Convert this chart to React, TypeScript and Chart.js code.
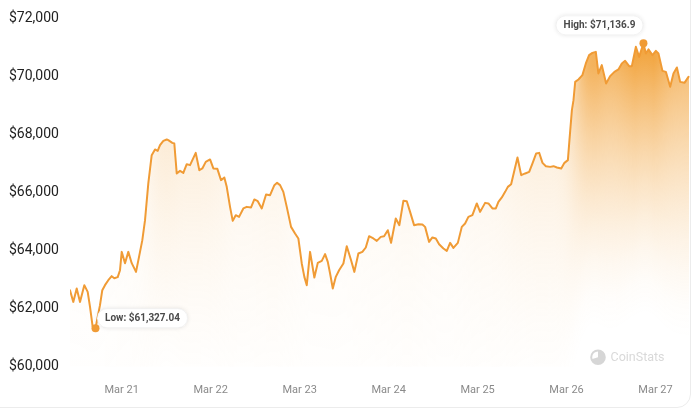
import React, { useEffect, useRef } from 'react';
import { Chart, registerables } from 'chart.js';

Chart.register(...registerables);

// hours since Mar 20 00:00
const hours = [
  10.05, 10.94, 11.86, 12.75, 13.91, 14.82, 15.45, 16.17, 16.93, 18.14,
  18.76, 19.49, 20.38, 21.3, 22.0, 22.92, 23.54, 24.0, 24.89, 25.78,
  26.7, 27.86, 28.67, 29.56, 30.29, 31.18, 32.09, 32.98, 33.71, 34.33,
  35.23, 36.14, 36.57, 37.65, 38.19, 38.84, 39.73, 40.62, 41.54, 42.43,
  43.97, 44.94, 45.75, 46.67, 47.83, 48.72, 49.8, 50.79, 51.68, 52.33,
  53.22, 53.95, 54.76, 55.65, 56.81, 57.73, 58.89, 59.78, 60.7, 61.78,
  62.94, 64.02, 65.18, 65.91, 66.72, 67.6, 68.52, 69.68, 70.76, 71.65,
  72.57, 73.27, 73.92, 74.81, 75.97, 76.89, 77.97, 78.86, 79.59, 80.21,
  80.94, 81.75, 82.64, 83.8, 84.71, 85.87, 86.76, 87.84, 88.92, 89.84,
  90.73, 91.89, 92.81, 93.89, 94.78, 95.78, 96.66, 97.93, 98.9, 99.98,
  100.9, 101.79, 102.87, 104.03, 105.11, 105.84, 106.92, 107.81, 108.73, 109.62,
  110.78, 111.7, 112.59, 113.48, 114.67, 115.74, 116.63, 117.52, 118.6, 119.79,
  120.68, 122.03, 122.92, 124.0, 124.92, 125.62, 126.54, 127.43, 128.16, 129.05,
  129.94, 130.76, 131.76, 132.84, 133.92, 134.81, 135.81, 136.62, 137.51, 138.43,
  139.59, 140.48, 141.4, 142.56, 143.43, 144.36, 144.78, 145.44, 145.87, 146.33,
  147.2, 148.28, 149.2, 150.08, 150.97, 151.89, 152.59, 153.51, 154.67, 155.75,
  156.91, 157.99, 158.91, 159.8, 160.88, 161.61, 162.69, 163.58, 164.74, 165.39,
  166.09, 167.17, 168.09, 168.79, 169.87, 170.79, 171.95, 172.84, 173.76, 174.65,
  175.81, 176.89,
];

const prices = [
  62635, 62232, 62694, 62232, 62808, 62577, 62060, 61371, 61327.04, 62119,
  62635, 62808, 62980, 63118, 63049, 63084, 63324, 63955, 63566, 63955,
  63566, 63266, 63783, 64358, 65047, 66322, 67286, 67483, 67434, 67631,
  67779, 67827, 67803, 67710, 67689, 66656, 66745, 66676, 66976, 66942,
  67365, 66769, 66828, 67055, 67138, 66828, 66814, 66425, 66518, 66194,
  65505, 65023, 65219, 65161, 65450, 65505, 65484, 65760, 65701, 65450,
  65932, 65908, 66253, 66332, 66253, 66022, 65505, 64816, 64589, 64416,
  63555, 63094, 62808, 63955, 63073, 63576, 63645, 63876, 63610, 63211,
  62694, 63094, 63324, 63555, 64151, 63669, 63266, 63900, 63955, 64106,
  64496, 64416, 64334, 64472, 64496, 64702, 64265, 65105, 64875, 65712,
  65701, 65333, 64875, 64909, 64899, 64816, 64299, 64451, 64416, 64220,
  64072, 63989, 64265, 64093, 64265, 64816, 64933, 65161, 65219, 65622,
  65333, 65643, 65622, 65450, 65450, 65677, 65829, 66022, 66194, 66287,
  66769, 67207, 66597, 66656, 66711, 67000, 67345, 67365, 67021, 66907,
  66883, 66907, 66862, 66828, 67021, 67114, 67803, 68836, 69181, 69811,
  69894, 70042, 70445, 70731, 70810, 70845, 70101, 70387, 69756, 70008,
  70156, 70239, 70445, 70535, 70352, 70352, 71017, 70673, 71136.9, 70790,
  70928, 70731, 70879, 70790, 70190, 70156, 69639, 70101, 70307, 69811,
  69777, 69984,
];

const dayTicks = [24, 48, 72, 96, 120, 144, 168];
const dayLabels = ['Mar 21', 'Mar 22', 'Mar 23', 'Mar 24', 'Mar 25', 'Mar 26', 'Mar 27'];
const yTicks = [60000, 62000, 64000, 66000, 68000, 70000, 72000];

const LINE = '#f09b35';
const FILL_RGB = '241,159,51';

const fmtMoney = (v: number) =>
  '$' + v.toLocaleString('en-US', { maximumFractionDigits: 2 });

const minIdx = prices.indexOf(Math.min(...prices));
const maxIdx = prices.indexOf(Math.max(...prices));

const glowFill = {
  id: 'glowFill',
  beforeDatasetsDraw(chart: any) {
    const meta = chart.getDatasetMeta(0);
    const pts = meta.data;
    if (!pts || pts.length < 2) return;
    const { ctx, chartArea } = chart;
    const bottom = chartArea.bottom;
    const x0 = Math.floor(pts[0].x);
    const x1 = Math.ceil(pts[pts.length - 1].x);
    // line y per pixel column
    const ys: number[] = [];
    let j = 0;
    for (let x = x0; x < x1; x++) {
      const cx = Math.min(Math.max(x + 0.5, pts[0].x), pts[pts.length - 1].x);
      while (j < pts.length - 2 && pts[j + 1].x < cx) j++;
      const a = pts[j];
      const b = pts[j + 1];
      const t = b.x === a.x ? 0 : (cx - a.x) / (b.x - a.x);
      ys.push(a.y + (b.y - a.y) * t);
    }
    // smoothed envelope
    const sigma = 9;
    const R = 27;
    const sm: number[] = ys.map((_, i) => {
      let s = 0;
      let w = 0;
      for (let k = -R; k <= R; k++) {
        const idx = Math.min(ys.length - 1, Math.max(0, i + k));
        const wk = Math.exp(-(k * k) / (2 * sigma * sigma));
        s += ys[idx] * wk;
        w += wk;
      }
      return s / w;
    });
    ctx.save();
    const depth = 260;
    for (let i = 0; i < ys.length; i++) {
      const x = x0 + i;
      const ly = ys[i];
      const sy = sm[i];
      const rel = sy - chartArea.top;
      const strength = Math.min(0.92, 0.9 * Math.exp(-(rel - 40) / 58));
      const g = ctx.createLinearGradient(0, sy, 0, sy + depth);
      const steps = 8;
      for (let k = 0; k <= steps; k++) {
        const f = k / steps;
        const al = strength * Math.pow(1 - f, 1.7);
        g.addColorStop(f, `rgba(${FILL_RGB},${al.toFixed(4)})`);
      }
      ctx.fillStyle = g;
      const h = bottom - ly;
      if (h > 0) ctx.fillRect(x, ly, 1, h);
    }
    ctx.restore();
  },
};

function pill(ctx: CanvasRenderingContext2D, x: number, y: number, w: number, h: number) {
  const r = h / 2;
  ctx.beginPath();
  ctx.moveTo(x + r, y);
  ctx.lineTo(x + w - r, y);
  ctx.arc(x + w - r, y + r, r, -Math.PI / 2, Math.PI / 2);
  ctx.lineTo(x + r, y + h);
  ctx.arc(x + r, y + r, r, Math.PI / 2, (Math.PI * 3) / 2);
  ctx.closePath();
}

const annotations = {
  id: 'annotations',
  afterDatasetsDraw(chart: any) {
    const { ctx, chartArea } = chart;
    const meta = chart.getDatasetMeta(0);
    const lo = meta.data[minIdx];
    const hi = meta.data[maxIdx];
    ctx.save();
    ctx.font = 'bold 10px Roboto';
    ctx.textBaseline = 'middle';
    ctx.textAlign = 'center';

    const drawLabel = (text: string, left: number, cy: number) => {
      const tw = ctx.measureText(text).width;
      const w = tw + 16;
      const h = 20;
      ctx.save();
      ctx.shadowColor = 'rgba(0,0,0,0.10)';
      ctx.shadowBlur = 4;
      ctx.fillStyle = '#ffffff';
      pill(ctx, left, cy - h / 2, w, h);
      ctx.fill();
      ctx.restore();
      ctx.strokeStyle = 'rgba(0,0,0,0.05)';
      ctx.lineWidth = 1;
      pill(ctx, left + 0.5, cy - h / 2 + 0.5, w - 1, h - 1);
      ctx.stroke();
      ctx.fillStyle = '#4a4a4a';
      ctx.fillText(text, left + w / 2, cy + 0.5);
      return w;
    };

    const hiText = 'High: ' + fmtMoney(prices[maxIdx]);
    const hiW = ctx.measureText(hiText).width + 16;
    drawLabel(hiText, hi.x - hiW, hi.y - 18);

    const loText = 'Low: ' + fmtMoney(prices[minIdx]);
    drawLabel(loText, lo.x + 1.5, lo.y - 10);

    // watermark
    const wx = chartArea.right - 92;
    const wy = chartArea.bottom - 9.5;
    ctx.fillStyle = '#d6d6d6';
    ctx.strokeStyle = '#d6d6d6';
    ctx.lineWidth = 2;
    ctx.beginPath();
    ctx.arc(wx, wy, 6.8, 0, Math.PI * 2);
    ctx.stroke();
    ctx.beginPath();
    ctx.moveTo(wx, wy);
    ctx.arc(wx, wy, 6.8, -Math.PI / 2, Math.PI * 0.9);
    ctx.closePath();
    ctx.fill();
    ctx.font = '12.5px Roboto';
    ctx.textAlign = 'left';
    ctx.fillStyle = '#d9d9d9';
    ctx.fillText('CoinStats', wx + 12.5, wy + 0.5);
    ctx.restore();
  },
};

export default function App() {
  const ref = useRef<HTMLCanvasElement | null>(null);

  useEffect(() => {
    if (!ref.current) return;
    const data = hours.map((h, i) => ({ x: h, y: prices[i] }));
    const chart = new Chart(ref.current, {
      type: 'line',
      data: {
        datasets: [
          {
            data,
            borderColor: LINE,
            borderWidth: 2,
            borderJoinStyle: 'round',
            borderCapStyle: 'round',
            tension: 0,
            fill: false,
            pointRadius: (c: any) => (c.dataIndex === minIdx || c.dataIndex === maxIdx ? 4 : 0),
            pointBackgroundColor: LINE,
            pointBorderWidth: 0,
            pointHoverRadius: 0,
          },
        ],
      },
      options: {
        animation: false,
        responsive: false,
        devicePixelRatio: 1,
        events: [],
        layout: { padding: { left: 9, right: 1, top: 18.3, bottom: 0 } },
        plugins: { legend: { display: false }, tooltip: { enabled: false } },
        scales: {
          x: {
            type: 'linear',
            min: 10.05,
            max: 177.3,
            grid: { display: false, drawTicks: false },
            border: { display: false },
            afterBuildTicks: (s: any) => {
              s.ticks = dayTicks.map((v) => ({ value: v }));
            },
            afterFit: (s: any) => {
              s.height = 41.3;
            },
            ticks: {
              autoSkip: false,
              maxRotation: 0,
              padding: 17,
              color: '#8a8a8a',
              font: { family: 'Roboto', size: 11 },
              callback: (_v: any, i: number) => dayLabels[i],
            },
          },
          y: {
            min: yTicks[0],
            max: yTicks[yTicks.length - 1],
            grid: { display: false, drawTicks: false },
            border: { display: false },
            afterBuildTicks: (s: any) => {
              s.ticks = yTicks.map((v) => ({ value: v }));
            },
            afterFit: (s: any) => {
              s.width = 61;
            },
            ticks: {
              crossAlign: 'far',
              padding: 0,
              color: '#222222',
              font: { family: 'Roboto', size: 14 },
              callback: (v: any) => '$' + Number(v).toLocaleString('en-US'),
            },
          },
        },
      },
      plugins: [glowFill, annotations],
    } as any);
    return () => chart.destroy();
  }, []);

  return (
    <div
      style={{
        position: 'fixed',
        left: 0,
        top: 0,
        width: 691,
        height: 408,
        background: '#fff',
        overflow: 'hidden',
      }}
    >
      <div
        style={{
          position: 'absolute',
          left: -40,
          top: -40,
          right: 0,
          bottom: 0,
          border: '1px solid #ececec',
          borderRadius: 14,
          boxSizing: 'border-box',
        }}
      />
      <canvas ref={ref} width={691} height={408} style={{ position: 'absolute', left: 0, top: 0 }} />
    </div>
  );
}
